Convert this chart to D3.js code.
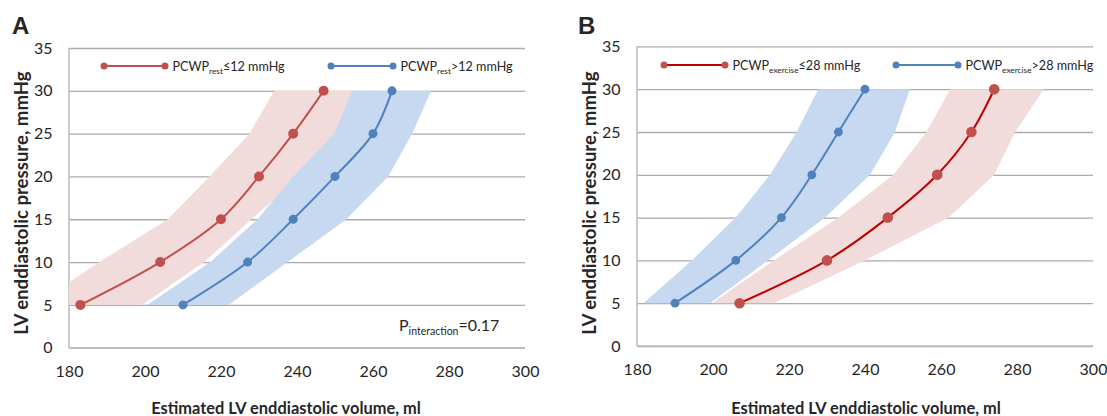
<!DOCTYPE html>
<html>
<head>
<meta charset="utf-8">
<script src="https://cdn.jsdelivr.net/npm/d3@7"></script>
<style>
  html, body { margin: 0; padding: 0; background: #fff; }
  svg { display: block; }
  text { font-family: Lato, "Open Sans", sans-serif; fill: #262626; }
</style>
</head>
<body>
<svg id="chart" width="1107" height="416"></svg>
<script>
// ---------- data ----------
const pressures = [5, 10, 15, 20, 25, 30];
const yTicks = [0, 5, 10, 15, 20, 25, 30, 35];
const xTicks = [180, 200, 220, 240, 260, 280, 300];

// Panel A (PCWP rest)
const aRedVol   = [183, 204, 220, 230, 239, 247];
const aRedLow   = [171, 188, 206, 217, 227.5, 234];
const aRedHigh  = [199.2, 215.6, 228, 241, 251, 256.6];
const aBlueVol  = [210, 227, 239, 250, 260, 265];
const aBlueLow  = [200.6, 217.2, 229.6, 239, 249.8, 254.5];
const aBlueHigh = [222, 237.5, 253, 264, 270.3, 275.3];

// Panel B (PCWP exercise)
const bRedVol   = [207, 230, 246, 259, 268, 274];
const bRedLow   = [199.7, 216, 233, 247.5, 256.2, 262.4];
const bRedHigh  = [216, 240, 262, 274, 279.5, 287];
const bBlueVol  = [190, 206, 218, 226, 233, 240];
const bBlueLow  = [181.7, 194.4, 206, 215, 222, 227.7];
const bBlueHigh = [199.2, 214.4, 229.5, 241.3, 247.9, 251.8];

const panelLetters = ["A", "B"];
const legendMainA = ["PCWP", "PCWP"];
const legendSubA  = ["rest", "rest"];
const legendTailA = ["≤12 mmHg", ">12 mmHg"];
const legendMainB = ["PCWP", "PCWP"];
const legendSubB  = ["exercise", "exercise"];
const legendTailB = ["≤28 mmHg", ">28 mmHg"];
const xTitle = "Estimated LV enddiastolic volume, ml";
const yTitle = "LV enddiastolic pressure, mmHg";
const pText = ["P", "interaction", "=0.17"];

// ---------- styles ----------
const RED = "#c0504d", RED_DARK = "#c00000", BLUE = "#4f81bd";
const RED_BAND = "#f2dcdb", BLUE_BAND = "#c6d9f1";

const svg = d3.select("#chart");

function panel(cfg) {
  const x = d3.scaleLinear().domain([180, 300]).range([cfg.x0, cfg.x1]);
  const y = d3.scaleLinear().domain([0, 35]).range([cfg.yb, cfg.yt]);
  const g = svg.append("g");
  const clipId = "clip" + cfg.letter;
  svg.append("clipPath").attr("id", clipId).append("rect")
    .attr("x", cfg.x0).attr("y", cfg.yt - 5).attr("width", cfg.x1 - cfg.x0).attr("height", cfg.yb - cfg.yt + 5);

  // gridlines + y tick labels
  const yAxis = d3.axisLeft(y).tickValues(yTicks).tickSize(-(cfg.x1 - cfg.x0)).tickPadding(16.5);
  const ga = g.append("g").attr("transform", `translate(${cfg.x0},0)`).call(yAxis);
  ga.select(".domain").remove();
  ga.selectAll(".tick line").attr("stroke", "#ababab").attr("stroke-width", 1.3);
  ga.selectAll(".tick text").style("font-size", "16px").attr("fill", "#262626");

  // x tick labels
  const xAxis = d3.axisBottom(x).tickValues(xTicks).tickSize(0).tickPadding(17.5);
  const gx = g.append("g").attr("transform", `translate(0,${cfg.yb})`).call(xAxis);
  gx.select(".domain").remove();
  gx.selectAll(".tick text").style("font-size", "16px").attr("fill", "#262626");

  // axis lines
  g.append("line").attr("x1", cfg.x0).attr("x2", cfg.x0).attr("y1", cfg.yt).attr("y2", cfg.yb)
    .attr("stroke", "#bfbfbf").attr("stroke-width", 1.6);
  g.append("line").attr("x1", cfg.x0).attr("x2", cfg.x1).attr("y1", cfg.yb).attr("y2", cfg.yb)
    .attr("stroke", "#bfbfbf").attr("stroke-width", 1.6);

  const area = (lo, hi) => d3.area()
    .y((d, i) => y(pressures[i])).x0((d, i) => x(lo[i])).x1((d, i) => x(hi[i]))(pressures);
  const bands = g.append("g").attr("clip-path", `url(#${clipId})`);
  cfg.series.forEach(s => {
    bands.append("path").attr("d", area(s.lo, s.hi)).attr("fill", s.band);
  });

  const line = d3.line().x(d => x(d[0])).y(d => y(d[1])).curve(d3.curveCatmullRom.alpha(0.5));
  cfg.series.forEach(s => {
    const pts = s.vol.map((v, i) => [v, pressures[i]]);
    g.append("path").attr("d", line(pts)).attr("fill", "none").attr("stroke", s.line).attr("stroke-width", 2);
    g.selectAll(null).data(pts).enter().append("circle")
      .attr("cx", d => x(d[0])).attr("cy", d => y(d[1])).attr("r", s.r).attr("fill", s.dot);
  });

  // legend
  cfg.legend.forEach((L, i) => {
    const lg = g.append("g");
    lg.append("line").attr("x1", L.lx0).attr("x2", L.lx1).attr("y1", L.ly).attr("y2", L.ly)
      .attr("stroke", L.color).attr("stroke-width", 2);
    [L.lx0, L.lx1].forEach(cx => lg.append("circle").attr("cx", cx).attr("cy", L.ly).attr("r", 3.5).attr("fill", L.dotColor));
    const t = lg.append("text").attr("x", L.lx1 + 7.5).attr("y", L.ly + 4.5).style("font-size", "12.6px");
    t.append("tspan").text(L.main);
    t.append("tspan").text(L.sub).attr("dy", 3).style("font-size", "8.3px");
    t.append("tspan").text(L.tail).attr("dy", -3);
  });

  // panel letter
  svg.append("text").attr("x", cfg.letterX).attr("y", 33.5).text(cfg.letter)
    .style("font-family", "Liberation Sans, Arial, sans-serif").style("font-weight", "bold").style("font-size", "24px").attr("fill", "#000");

  // axis titles
  svg.append("text").attr("x", cfg.xTitleX).attr("y", 414).attr("text-anchor", "middle")
    .style("font-weight", "bold").style("font-size", "16.4px").text(xTitle);
  svg.append("text").attr("transform", `translate(${cfg.yTitleX},203) rotate(-90)`)
    .attr("text-anchor", "middle").style("font-weight", "bold").style("font-size", "18.6px").text(yTitle);
  return { x, y, g };
}

const A = panel({
  letter: panelLetters[0], letterX: 12, x0: 69, x1: 525, yt: 48, yb: 347.7,
  xTitleX: 286, yTitleX: 28,
  series: [
    { vol: aRedVol, lo: aRedLow, hi: aRedHigh, band: RED_BAND, line: RED, dot: RED, r: 5 },
    { vol: aBlueVol, lo: aBlueLow, hi: aBlueHigh, band: BLUE_BAND, line: BLUE, dot: BLUE, r: 4.5 }
  ],
  legend: [
    { lx0: 104, lx1: 165, ly: 66, color: RED, dotColor: RED, main: legendMainA[0], sub: legendSubA[0], tail: legendTailA[0] },
    { lx0: 331, lx1: 393, ly: 66, color: BLUE, dotColor: BLUE, main: legendMainA[1], sub: legendSubA[1], tail: legendTailA[1] }
  ]
});
// P interaction annotation
const pt = A.g.append("text").attr("x", 399).attr("y", 331).style("font-size", "16px");
pt.append("tspan").text(pText[0]);
pt.append("tspan").text(pText[1]).attr("dy", 4).style("font-size", "10.5px");
pt.append("tspan").text(pText[2]).attr("dy", -4);

panel({
  letter: panelLetters[1], letterX: 578, x0: 637, x1: 1093, yt: 46.4, yb: 346,
  xTitleX: 866, yTitleX: 595.5,
  series: [
    { vol: bBlueVol, lo: bBlueLow, hi: bBlueHigh, band: BLUE_BAND, line: BLUE, dot: BLUE, r: 4.4 },
    { vol: bRedVol, lo: bRedLow, hi: bRedHigh, band: RED_BAND, line: RED_DARK, dot: RED, r: 5.3 }
  ],
  legend: [
    { lx0: 664, lx1: 725, ly: 65, color: RED_DARK, dotColor: RED, main: legendMainB[0], sub: legendSubB[0], tail: legendTailB[0] },
    { lx0: 896, lx1: 958, ly: 65, color: BLUE, dotColor: BLUE, main: legendMainB[1], sub: legendSubB[1], tail: legendTailB[1] }
  ]
});
</script>
</body>
</html>
